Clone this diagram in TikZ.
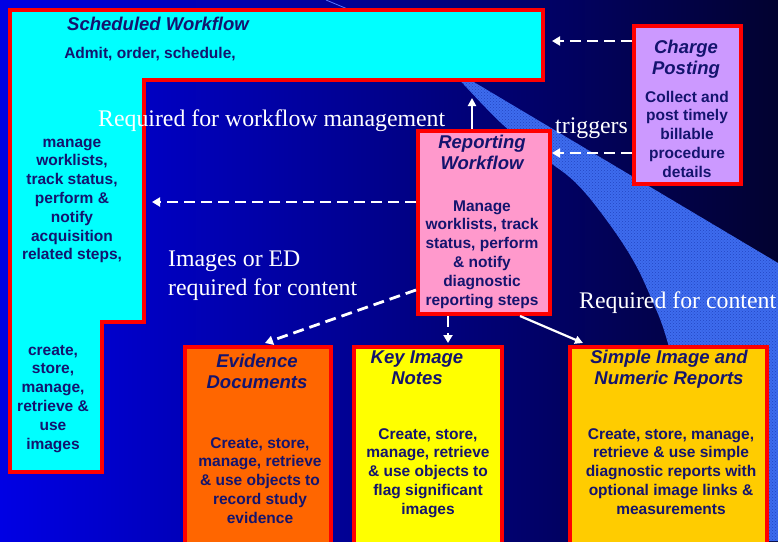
\documentclass[tikz,border=0pt]{standalone}
\usepackage{fontspec}
\setmainfont{Liberation Sans}
\newfontfamily\labelserif{Liberation Serif}
\usetikzlibrary{arrows.meta,patterns}
\definecolor{txtc}{RGB}{20,20,110}
\definecolor{cyanF}{RGB}{0,255,255}
\definecolor{redB}{RGB}{255,0,0}
\definecolor{chargeF}{RGB}{204,153,255}
\definecolor{repF}{RGB}{255,153,204}
\definecolor{evidF}{RGB}{255,102,0}
\definecolor{keyF}{RGB}{255,255,0}
\definecolor{simpF}{RGB}{255,204,0}
\definecolor{bandF}{RGB}{62,108,238}
\definecolor{bandD}{RGB}{35,70,195}
\definecolor{bgL}{RGB}{0,0,228}
\definecolor{bgR}{RGB}{2,2,48}
\definecolor{beamC}{RGB}{90,120,255}
\newcommand\mlines[1]{\begin{tabular}[t]{@{}c@{}}#1\end{tabular}}
\newcommand\mlinesl[1]{\begin{tabular}[t]{@{}l@{}}#1\end{tabular}}
\newcommand\ttlfont{\fontsize{18.5}{21.5}\selectfont\bfseries\itshape}
\newcommand\bodyfont{\fontsize{15.5}{18.8}\selectfont\bfseries}
\newcommand\lblfont{\labelserif\fontsize{23.8}{29}\selectfont}
\begin{document}
\begin{tikzpicture}[x=1pt,y=-1pt,
  boxstyle/.style={draw=redB, line width=4pt, rectangle, inner sep=0pt},
  ttl/.style={font=\ttlfont, text=txtc, inner sep=0pt, anchor=base},
  body/.style={font=\bodyfont, text=txtc, inner sep=0pt, anchor=base},
  lbl/.style={font=\lblfont, text=white, inner sep=0pt, anchor=base west},
  dasharrow/.style={draw=white, line width=2.8pt, dash pattern=on 11pt off 6pt, -{Triangle[length=8pt,width=9pt]}},
  solidarrow/.style={draw=white, line width=2.2pt, -{Triangle[length=8pt,width=8pt]}}
]
\useasboundingbox (0,0) rectangle (778,541);
\clip (0,0) rectangle (778,541);
% background
\shade[left color=bgL, right color=bgR] (0,0) rectangle (778,541);
% light band
\def\bandpath{plot[smooth, tension=0.6] coordinates {(455,75) (500,122) (540,155) (575,182) (605,218) (633,260) (652,300) (667,340) (690,430) (712,541)}
  -- (778,541) -- (778,263) -- (462,75) -- cycle}
\fill[bandF] \bandpath;
\fill[pattern=crosshatch dots, pattern color=bandD] \bandpath;
% thin beam line
\draw[beamC, line width=0.8pt] (326,0) -- (350,10);

% Scheduled Workflow shape
\draw[draw=redB, fill=cyanF, line width=4pt, line join=miter]
  (10,10) -- (543,10) -- (543,80) -- (144,80) -- (144,322) -- (102,322) -- (102,472) -- (10,472) -- cycle;
\coordinate (schedR) at (552,41);
\coordinate (schedB) at (472,98);
\coordinate (schedL) at (152,202);

% boxes
\node[boxstyle, fill=chargeF, minimum width=107pt, minimum height=158pt] (charge) at (687.5,105) {};
\node[boxstyle, fill=repF, minimum width=132pt, minimum height=183pt] (rep) at (484,222.5) {};
\node[boxstyle, fill=evidF, minimum width=146pt, minimum height=213pt] (evid) at (258,453.5) {};
\node[boxstyle, fill=keyF, minimum width=148pt, minimum height=213pt] (key) at (428,453.5) {};
\node[boxstyle, fill=simpF, minimum width=197pt, minimum height=213pt] (simple) at (668.5,453.5) {};

% Scheduled texts
\node[ttl] (schedT) at (158,30) {Scheduled Workflow};
\node[body] (schedA) at (150,58) {Admit, order, schedule,};
\node[body] (schedM) at (72,147) {\mlines{manage\\worklists,\\track status,\\perform \&\\notify\\acquisition\\related steps,}};
\node[body] (schedC) at (53,355) {\mlines{create,\\store,\\manage,\\retrieve \&\\use\\images}};

% Charge texts
\node[ttl] (chargeT) at (686,53) {\mlines{Charge\\Posting}};
\node[body] (chargeB) at (687,102) {\mlines{Collect and\\post timely\\billable\\procedure\\details}};

% Reporting texts
\node[ttl] (repT) at (482,148) {\mlines{Reporting\\Workflow}};
\node[body] (repB) at (482,211) {\mlines{Manage\\worklists, track\\status, perform\\\& notify\\diagnostic\\reporting steps}};

% Evidence texts
\node[ttl] (evidT) at (257,367) {\mlines{Evidence\\Documents}};
\node[body] (evidB) at (260,448) {\mlines{Create, store,\\manage, retrieve\\\& use objects to\\record study\\evidence}};

% Key texts
\node[ttl] (keyT) at (417,363) {\mlines{Key Image\\Notes}};
\node[body] (keyB) at (428,439) {\mlines{Create, store,\\manage, retrieve\\\& use objects to\\flag significant\\images}};

% Simple texts
\node[ttl] (simpT) at (669,363) {\mlines{Simple Image and\\Numeric Reports}};
\node[body] (simpB) at (671,439) {\mlines{Create, store, manage,\\retrieve \& use simple\\diagnostic reports with\\optional image links \&\\measurements}};

% labels
\node[lbl] (lblWM) at (98,126) {Required for workflow management};
\node[lbl] (lblTr) at (555,133) {triggers};
\node[lbl] (lblImg) at (168,266) {\mlinesl{Images or ED\\required for content}};
\node[lbl] (lblRC) at (579,308) {Required for content};

% connectors
\draw[dasharrow] (charge.west |- schedR) -- (schedR);
\draw[dasharrow] (charge.west |- 0,153) -- (rep.east |- 0,153);
\draw[solidarrow] (rep.north -| schedB) -- (schedB);
\draw[dasharrow] (rep.west |- schedL) -- (schedL);
\draw[dasharrow] (rep.west |- 0,290) -- (265,343);
\draw[dasharrow] (rep.south -| 448,0) -- ([yshift=2pt]key.north -| 448,0);
\draw[solidarrow] (rep.south -| 520,0) -- ([yshift=2pt]simple.north -| 583,0);
\end{tikzpicture}
\end{document}
